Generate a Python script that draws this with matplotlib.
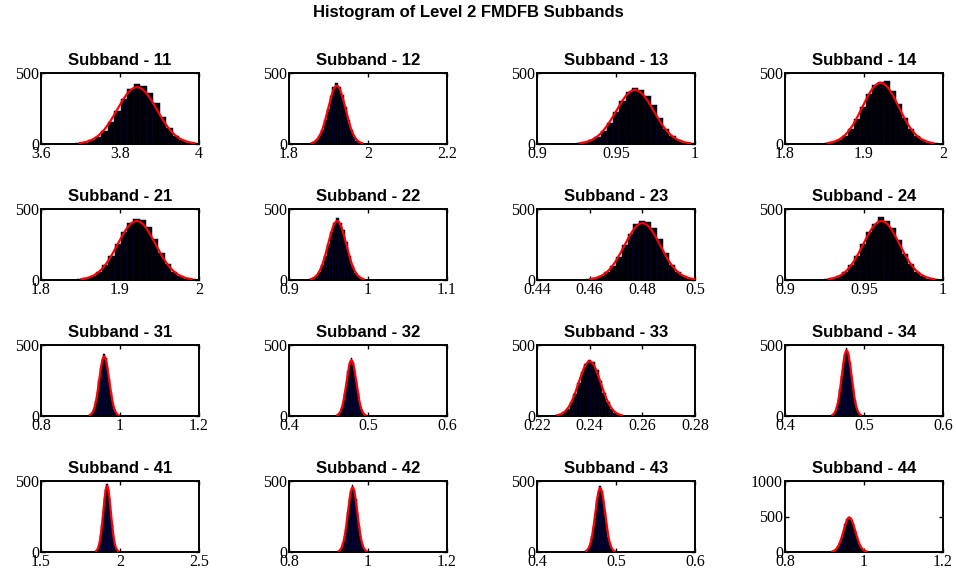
import numpy as np
import matplotlib
matplotlib.use("Agg")
import matplotlib.pyplot as plt

# ---- data -------------------------------------------------------------
names = ["11", "12", "13", "14", "21", "22", "23", "24",
         "31", "32", "33", "34", "41", "42", "43", "44"]

# fitted normal parameters (mean, std, peak count)
fit_mu = [3.843, 1.921, 0.962, 1.921, 1.921, 0.961, 0.480, 0.961,
          0.960, 0.479, 0.240, 0.478, 1.918, 0.961, 0.480, 0.963]
fit_sigma = [0.050, 0.022, 0.0120, 0.0230, 0.0240, 0.0115, 0.0068, 0.0115,
             0.0125, 0.0062, 0.0042, 0.0062, 0.024, 0.0120, 0.0062, 0.0150]
fit_peak = [400, 410, 380, 430, 415, 415, 400, 415,
            420, 393, 385, 462, 465, 455, 450, 485]

# histogram counts (21 bins spanning mean +/- 3.465 std)
counts = [
    [1, 4, 10, 26, 52, 95, 155, 232, 318, 388, 420, 405, 362, 288, 192, 112, 56, 26, 10, 4, 1],
    [1, 3, 11, 27, 55, 102, 170, 250, 335, 400, 432, 398, 345, 262, 170, 100, 50, 24, 10, 3, 1],
    [2, 5, 12, 27, 52, 92, 150, 222, 300, 365, 392, 382, 340, 272, 180, 105, 55, 25, 10, 4, 1],
    [1, 4, 12, 28, 58, 108, 178, 262, 350, 415, 440, 445, 375, 280, 185, 108, 55, 26, 10, 4, 1],
    [1, 4, 11, 28, 57, 104, 172, 252, 335, 398, 432, 425, 370, 290, 190, 110, 56, 27, 10, 4, 1],
    [1, 4, 12, 28, 56, 105, 172, 256, 340, 398, 440, 400, 350, 265, 172, 102, 52, 26, 10, 3, 1],
    [1, 4, 11, 27, 54, 100, 164, 245, 325, 392, 418, 410, 365, 290, 190, 108, 54, 25, 10, 4, 1],
    [1, 4, 11, 28, 56, 103, 170, 252, 335, 395, 445, 418, 368, 282, 185, 110, 55, 26, 10, 4, 1],
    [1, 4, 12, 28, 57, 105, 172, 255, 340, 398, 440, 405, 345, 260, 170, 102, 52, 25, 10, 3, 1],
    [1, 4, 11, 27, 54, 100, 162, 240, 318, 375, 405, 380, 328, 248, 162, 98, 50, 24, 9, 3, 1],
    [1, 4, 11, 26, 52, 98, 158, 235, 312, 368, 395, 378, 325, 245, 160, 96, 49, 23, 9, 3, 1],
    [1, 4, 12, 31, 62, 116, 190, 283, 375, 440, 478, 445, 380, 288, 188, 112, 57, 28, 11, 4, 1],
    [1, 4, 12, 31, 63, 118, 192, 285, 378, 442, 482, 446, 382, 290, 190, 112, 58, 28, 11, 4, 1],
    [1, 4, 12, 30, 61, 115, 188, 280, 370, 432, 470, 438, 375, 283, 185, 110, 56, 27, 11, 4, 1],
    [1, 4, 12, 30, 60, 113, 185, 276, 365, 428, 462, 432, 370, 280, 183, 108, 55, 27, 10, 4, 1],
    [1, 4, 12, 32, 65, 122, 200, 295, 390, 458, 495, 462, 395, 300, 196, 116, 60, 29, 11, 4, 1],
]

xlims = [(3.6, 4), (1.8, 2.2), (0.9, 1), (1.8, 2),
         (1.8, 2), (0.9, 1.1), (0.44, 0.5), (0.9, 1),
         (0.8, 1.2), (0.4, 0.6), (0.22, 0.28), (0.4, 0.6),
         (1.5, 2.5), (0.8, 1.2), (0.4, 0.6), (0.8, 1.2)]
xticks = [[3.6, 3.8, 4], [1.8, 2, 2.2], [0.9, 0.95, 1], [1.8, 1.9, 2],
          [1.8, 1.9, 2], [0.9, 1, 1.1], [0.44, 0.46, 0.48, 0.5], [0.9, 0.95, 1],
          [0.8, 1, 1.2], [0.4, 0.5, 0.6], [0.22, 0.24, 0.26, 0.28], [0.4, 0.5, 0.6],
          [1.5, 2, 2.5], [0.8, 1, 1.2], [0.4, 0.5, 0.6], [0.8, 1, 1.2]]
xticklabels = [["3.6", "3.8", "4"], ["1.8", "2", "2.2"], ["0.9", "0.95", "1"], ["1.8", "1.9", "2"],
               ["1.8", "1.9", "2"], ["0.9", "1", "1.1"], ["0.44", "0.46", "0.48", "0.5"], ["0.9", "0.95", "1"],
               ["0.8", "1", "1.2"], ["0.4", "0.5", "0.6"], ["0.22", "0.24", "0.26", "0.28"], ["0.4", "0.5", "0.6"],
               ["1.5", "2", "2.5"], ["0.8", "1", "1.2"], ["0.4", "0.5", "0.6"], ["0.8", "1", "1.2"]]
ymax = [500] * 15 + [1000]
yticks = [[0, 500]] * 15 + [[0, 500, 1000]]

suptitle = "Histogram of Level 2 FMDFB Subbands"

# ---- figure -----------------------------------------------------------
W, H = 956, 576
fig = plt.figure(figsize=(W / 100, H / 100), dpi=100)
fig.patch.set_facecolor("white")

col_left = [41, 289, 537, 785]
row_top = [73, 209, 345, 481]
aw, ah = 158, 71

serif = ["Liberation Serif", "DejaVu Serif"]
sans = ["Liberation Sans", "DejaVu Sans"]

for i in range(16):
    r, c = divmod(i, 4)
    ax = fig.add_axes([col_left[c] / W, 1 - (row_top[r] + ah) / H, aw / W, ah / H])
    mu, sd, pk = fit_mu[i], fit_sigma[i], fit_peak[i]
    cnt = np.array(counts[i])
    nb = len(cnt)
    edges = np.linspace(mu - 3.465 * sd, mu + 3.465 * sd, nb + 1)
    centers = 0.5 * (edges[:-1] + edges[1:])
    width = edges[1] - edges[0]
    ax.bar(centers, cnt, width=width, color="black", edgecolor="#000060",
           linewidth=0.35, zorder=2)
    xs = np.linspace(mu - 2.9 * sd, mu + 2.9 * sd, 300)
    ax.plot(xs, pk * np.exp(-0.5 * ((xs - mu) / sd) ** 2), color="red",
            linewidth=1.6, zorder=3, clip_on=True)
    ax.set_xlim(*xlims[i])
    ax.set_ylim(0, ymax[i])
    ax.set_xticks(xticks[i])
    ax.set_xticklabels(xticklabels[i], family=serif, fontsize=11.5)
    ax.set_yticks(yticks[i])
    ax.set_yticklabels([str(v) for v in yticks[i]], family=serif, fontsize=11.5)
    ax.tick_params(direction="in", top=True, right=True, length=3, width=1,
                   pad=1.5, colors="black")
    for s in ax.spines.values():
        s.set_linewidth(1.4)
        s.set_color("black")
    ax.set_title("Subband - " + names[i], family=sans, fontweight="bold",
                 fontsize=12, pad=6)

fig.text(468.5 / W, 1 - 13 / H, suptitle, family=sans, fontweight="bold",
         fontsize=12, ha="center", va="center")

fig.savefig("out.png", dpi=100, facecolor="white")
